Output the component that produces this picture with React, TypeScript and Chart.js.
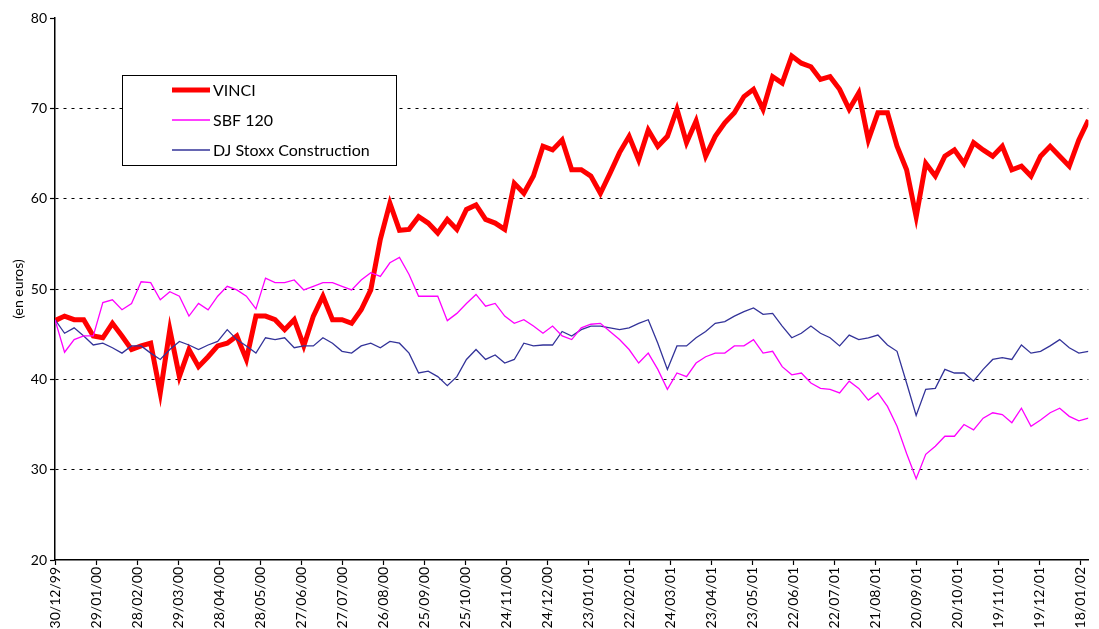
import React, { useEffect, useRef } from 'react';
import { Chart, registerables } from 'chart.js';

Chart.register(...registerables);

const FONT = 'Lato, "DejaVu Sans", sans-serif';

// x tick labels (every 30 days from 30/12/99)
const xTickLabels = [
  '30/12/99', '29/01/00', '28/02/00', '29/03/00', '28/04/00', '28/05/00', '27/06/00',
  '27/07/00', '26/08/00', '25/09/00', '25/10/00', '24/11/00', '24/12/00', '23/01/01',
  '22/02/01', '24/03/01', '23/04/01', '23/05/01', '22/06/01', '22/07/01', '21/08/01',
  '20/09/01', '20/10/01', '19/11/01', '19/12/01', '18/01/02',
];
const TICK_STEP_DAYS = 30;
const SAMPLE_STEP_DAYS = 7;
const X_MAX_DAYS = 756;

const seriesNames = ['VINCI', 'SBF 120', 'DJ Stoxx Construction'];

// weekly samples (en euros)
const vinci = [
  46.5, 47.0, 46.6, 46.6, 44.8, 44.6, 46.2, 44.8, 43.3, 43.7,
  44.0, 38.5, 45.5, 40.3, 43.3, 41.4, 42.5, 43.7, 44.0, 44.8,
  42.2, 47.0, 47.0, 46.6, 45.5, 46.6, 43.7, 47.0, 49.2, 46.6,
  46.6, 46.2, 47.7, 49.9, 55.5, 59.5, 56.5, 56.6, 58.0, 57.3,
  56.2, 57.7, 56.6, 58.8, 59.3, 57.7, 57.3, 56.6, 61.7, 60.6,
  62.5, 65.8, 65.4, 66.5, 63.2, 63.2, 62.5, 60.6, 62.8, 65.1,
  66.9, 64.3, 67.6, 65.8, 66.9, 69.9, 66.2, 68.6, 64.7, 66.9,
  68.4, 69.5, 71.3, 72.1, 69.9, 73.5, 72.8, 75.8, 75.0, 74.6,
  73.2, 73.5, 72.1, 69.9, 71.7, 66.5, 69.5, 69.5, 65.8, 63.2,
  58.0, 63.9, 62.5, 64.7, 65.4, 63.9, 66.2, 65.4, 64.7, 65.8,
  63.2, 63.6, 62.5, 64.7, 65.8, 64.7, 63.6, 66.5, 68.7,
];

const sbf120 = [
  46.6, 43.0, 44.4, 44.8, 44.8, 48.5, 48.8, 47.7, 48.4, 50.8,
  50.7, 48.8, 49.7, 49.2, 47.0, 48.4, 47.7, 49.2, 50.3, 49.9,
  49.2, 47.8, 51.2, 50.7, 50.7, 51.0, 49.9, 50.3, 50.7, 50.7,
  50.3, 49.9, 51.0, 51.8, 51.4, 52.9, 53.5, 51.6, 49.2, 49.2,
  49.2, 46.5, 47.3, 48.4, 49.4, 48.1, 48.4, 47.0, 46.2, 46.6,
  45.9, 45.1, 45.9, 44.8, 44.4, 45.7, 46.1, 46.2, 45.3, 44.4,
  43.3, 41.8, 42.9, 41.1, 38.9, 40.7, 40.3, 41.8, 42.5, 42.9,
  42.9, 43.7, 43.7, 44.4, 42.9, 43.1, 41.4, 40.5, 40.7, 39.6,
  39.0, 38.9, 38.5, 39.8, 39.0, 37.7, 38.5, 37.0, 34.8, 31.8,
  29.0, 31.7, 32.6, 33.7, 33.7, 35.0, 34.4, 35.7, 36.3, 36.1,
  35.2, 36.8, 34.8, 35.5, 36.3, 36.8, 35.9, 35.4, 35.7,
];

const djStoxxConstruction = [
  46.6, 45.1, 45.7, 44.8, 43.8, 44.0, 43.5, 42.9, 43.7, 43.7,
  42.9, 42.2, 43.3, 44.2, 43.8, 43.3, 43.8, 44.2, 45.5, 44.4,
  43.7, 42.9, 44.6, 44.4, 44.6, 43.5, 43.7, 43.7, 44.6, 44.0,
  43.1, 42.9, 43.7, 44.0, 43.5, 44.2, 44.0, 42.9, 40.7, 40.9,
  40.3, 39.3, 40.3, 42.2, 43.3, 42.2, 42.7, 41.8, 42.2, 44.0,
  43.7, 43.8, 43.8, 45.3, 44.8, 45.5, 45.9, 45.9, 45.7, 45.5,
  45.7, 46.2, 46.6, 44.0, 41.1, 43.7, 43.7, 44.6, 45.3, 46.2,
  46.4, 47.0, 47.5, 47.9, 47.2, 47.3, 45.9, 44.6, 45.1, 45.9,
  45.1, 44.6, 43.7, 44.9, 44.4, 44.6, 44.9, 43.8, 43.1, 39.6,
  36.0, 38.9, 39.0, 41.1, 40.7, 40.7, 39.8, 41.1, 42.2, 42.4,
  42.2, 43.8, 42.9, 43.1, 43.7, 44.4, 43.5, 42.9, 43.1,
];

const toPoints = (arr: number[]) => arr.map((y, i) => ({ x: i * SAMPLE_STEP_DAYS, y }));

const boxLegend = {
  id: 'boxLegend',
  afterDatasetsDraw(chart: any) {
    const ctx = chart.ctx as CanvasRenderingContext2D;
    const { left, top } = chart.chartArea;
    const bx = left + 67;
    const by = top + 57;
    const bw = 274;
    const bh = 90;
    ctx.save();
    ctx.fillStyle = '#ffffff';
    ctx.fillRect(bx, by, bw, bh);
    ctx.strokeStyle = '#000000';
    ctx.lineWidth = 1;
    ctx.strokeRect(bx + 0.5, by + 0.5, bw, bh);
    const order = [0, 1, 2];
    order.forEach((di, k) => {
      const ds = chart.data.datasets[di];
      const y = by + 15 + k * 30;
      ctx.beginPath();
      ctx.strokeStyle = ds.borderColor;
      ctx.lineWidth = ds.borderWidth;
      ctx.moveTo(bx + 50, y);
      ctx.lineTo(bx + 88, y);
      ctx.stroke();
      ctx.fillStyle = '#000000';
      ctx.font = `16px ${FONT}`;
      ctx.textBaseline = 'middle';
      ctx.textAlign = 'left';
      ctx.fillText(ds.label, bx + 91, y + 1);
    });
    ctx.restore();
  },
};

export default function App() {
  const ref = useRef<HTMLCanvasElement>(null);

  useEffect(() => {
    if (!ref.current) return;
    const chart = new Chart(ref.current, {
      type: 'line',
      data: {
        datasets: [
          {
            label: seriesNames[0],
            data: toPoints(vinci),
            borderColor: '#ff0000',
            backgroundColor: '#ff0000',
            borderWidth: 5,
            pointRadius: 0,
            tension: 0,
            order: 3,
          },
          {
            label: seriesNames[1],
            data: toPoints(sbf120),
            borderColor: '#ff00ff',
            backgroundColor: '#ff00ff',
            borderWidth: 1.3,
            pointRadius: 0,
            tension: 0,
            order: 1,
          },
          {
            label: seriesNames[2],
            data: toPoints(djStoxxConstruction),
            borderColor: '#333399',
            backgroundColor: '#333399',
            borderWidth: 1.3,
            pointRadius: 0,
            tension: 0,
            order: 2,
          },
        ],
      },
      options: {
        animation: false,
        responsive: false,
        maintainAspectRatio: false,
        layout: { padding: { top: 18, left: 0, right: 0, bottom: 0 } },
        plugins: {
          legend: { display: false },
          tooltip: { enabled: false },
        },
        scales: {
          x: {
            type: 'linear',
            min: 0,
            max: X_MAX_DAYS,
            afterBuildTicks: (s: any) => {
              s.ticks = xTickLabels.map((_, k) => ({ value: k * TICK_STEP_DAYS }));
            },
            afterFit: (s: any) => {
              s.height = 69;
            },
            ticks: {
              autoSkip: false,
              maxRotation: 90,
              minRotation: 90,
              padding: 2,
              color: '#000000',
              font: { family: FONT, size: 14 },
              callback: (v: any) => xTickLabels[Math.round(Number(v) / TICK_STEP_DAYS)] ?? '',
            },
            grid: {
              drawOnChartArea: false,
              tickLength: 5,
              tickColor: '#000000',
              tickWidth: 1.2,
            },
            border: { color: '#000000', width: 1.5 },
          },
          y: {
            min: 20,
            max: 80,
            afterFit: (s: any) => {
              s.width = 55;
            },
            ticks: {
              stepSize: 10,
              padding: 3,
              color: '#000000',
              font: { family: FONT, size: 14 },
            },
            title: {
              display: true,
              text: '(en euros)',
              color: '#000000',
              font: { family: FONT, size: 14 },
              padding: { top: 10, bottom: 0 },
            },
            grid: {
              color: (c: any) =>
                c.tick && c.tick.value > 20 && c.tick.value < 80 ? '#000000' : 'rgba(0,0,0,0)',
              lineWidth: 1,
              tickColor: '#000000',
              tickLength: 5,
              tickWidth: 1.2,
            },
            border: { color: '#000000', width: 1.5, dash: [3, 5] },
          },
        },
      },
      plugins: [boxLegend],
    });
    return () => chart.destroy();
  }, []);

  return (
    <canvas
      ref={ref}
      width={1099}
      height={629}
      style={{ position: 'fixed', left: 0, top: 0, width: 1099, height: 629 }}
    />
  );
}
